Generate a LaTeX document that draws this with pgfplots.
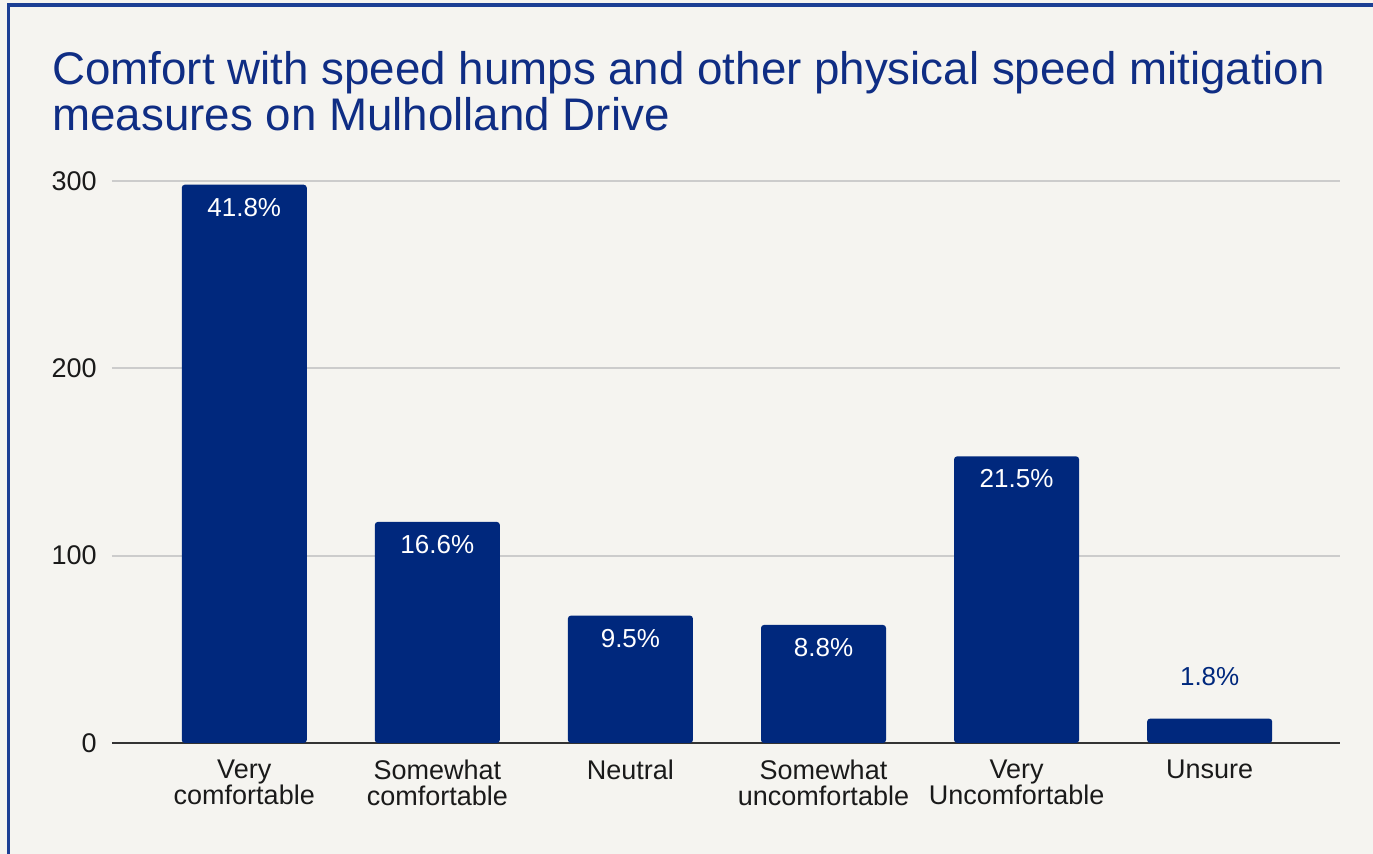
\documentclass[border=0pt]{standalone}
\usepackage{fontspec}
\setmainfont{Liberation Sans}
\usepackage{pgfplots}
\pgfplotsset{compat=1.18}
\definecolor{bgc}{HTML}{F5F4F0}
\definecolor{navy}{HTML}{00287D}
\definecolor{titlec}{HTML}{0F2D84}
\definecolor{framec}{HTML}{1C3F94}
\definecolor{gridc}{HTML}{CCCCCC}
\definecolor{axisc}{HTML}{333333}
\definecolor{labc}{HTML}{1A1A1A}
\begin{document}
\begin{tikzpicture}
\fill[bgc] (0,0) rectangle (686.5pt,427pt);
\path[use as bounding box] (0,0) rectangle (686.5pt,427pt);
\node[anchor=base west, inner sep=0pt, text=titlec, font=\fontsize{22.85}{27}\selectfont] at (26pt,384.5pt) {Comfort with speed humps and other physical speed mitigation};
\node[anchor=base west, inner sep=0pt, text=titlec, font=\fontsize{22.85}{27}\selectfont] at (26pt,361.5pt) {measures on Mulholland Drive};
\begin{axis}[
  at={(56pt,55.5pt)}, anchor=south west,
  scale only axis, width=614pt, height=281pt,
  xmin=-0.685, xmax=5.675, ymin=0, ymax=300,
  axis line style={draw=none},
  major tick length=0pt,
  xtick={0,1,2,3,4,5},
  xticklabels={{Very\\comfortable},{Somewhat\\comfortable},{Neutral},{Somewhat\\uncomfortable},{Very\\Uncomfortable},{Unsure}},
  xticklabel style={font=\fontsize{13.5}{13}\selectfont, text=labc, align=center, inner sep=0pt, anchor=north, yshift=-8.5pt},
  ytick={100,200,300},
  extra y ticks={0}, extra y tick labels={0},
  extra y tick style={grid style={draw=axisc, line width=1pt}},
  ymajorgrids,
  grid style={draw=gridc, line width=1pt},
  yticklabel style={font=\fontsize{13.5}{14}\selectfont, text=labc, inner sep=0pt, anchor=east, xshift=-7.5pt},
  /pgf/number format/assume math mode=true,
]
\addplot[ybar, bar width=62.5pt, bar shift=0pt, fill=navy, draw=none, rounded corners=1.5pt,
  nodes near coords, point meta=explicit symbolic,
  nodes near coords style={anchor=north, inner sep=0pt, yshift=-6.5pt, text=white, font=\fontsize{13}{14}\selectfont}]
  coordinates {(0,298) [41.8\%] (1,118) [16.6\%] (2,68) [9.5\%] (3,63) [8.8\%] (4,153) [21.5\%]};
\addplot[ybar, bar width=62.5pt, bar shift=0pt, fill=navy, draw=none, rounded corners=1.5pt,
  nodes near coords, point meta=explicit symbolic,
  nodes near coords style={anchor=south, inner sep=0pt, yshift=16pt, text=navy, font=\fontsize{13}{14}\selectfont}]
  coordinates {(5,13) [1.8\%]};
\end{axis}
\draw[framec, line width=1.75pt] (4.25pt,0) -- (4.25pt,424.6pt) -- (686.5pt,424.6pt);
\end{tikzpicture}
\end{document}
